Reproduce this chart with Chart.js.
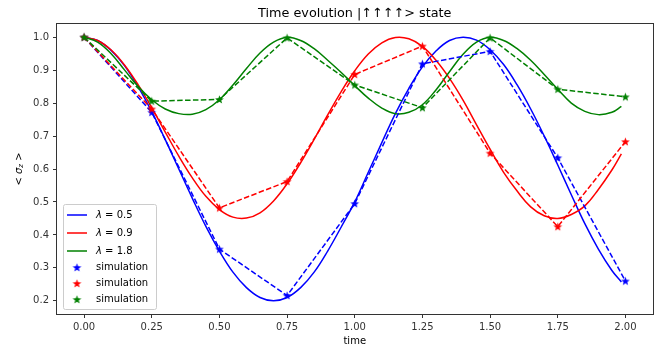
<!DOCTYPE html>
<html>
<head>
<meta charset="utf-8">
<script src="https://cdn.jsdelivr.net/npm/chart.js@4.4.0/dist/chart.umd.min.js"></script>
<style>
    html, body { margin: 0; padding: 0; background: #fff; }
    #wrap { width: 659px; height: 347px; }
</style>
</head>
<body>
<div id="wrap"><canvas id="chart" width="659" height="347"></canvas></div>
<script>
// Curvas teóricas (muestreadas cada 0.05)
const curveT = [0, 0.05, 0.1, 0.15, 0.2, 0.25, 0.3, 0.35, 0.4, 0.45,
    0.5, 0.55, 0.6, 0.65, 0.7, 0.75, 0.8, 0.85, 0.9, 0.95,
    1.0, 1.05, 1.1, 1.15, 1.2, 1.25, 1.3, 1.35, 1.4, 1.45,
    1.5, 1.55, 1.6, 1.65, 1.7, 1.75, 1.8, 1.85, 1.9, 1.95, 1.985];
const curve05 = [1.0, 0.990, 0.960, 0.913, 0.849, 0.774, 0.689, 0.600, 0.511, 0.426,
    0.351, 0.287, 0.240, 0.210, 0.200, 0.210, 0.240, 0.287, 0.351, 0.424,
    0.500, 0.590, 0.680, 0.768, 0.845, 0.910, 0.958, 0.990, 1.000, 0.991,
    0.962, 0.917, 0.855, 0.782, 0.700, 0.612, 0.522, 0.434, 0.357, 0.292, 0.257];
const curve09 = [1.0, 0.990, 0.961, 0.915, 0.855, 0.786, 0.712, 0.639, 0.573, 0.517,
    0.477, 0.454, 0.451, 0.467, 0.503, 0.555, 0.619, 0.690, 0.764, 0.835,
    0.898, 0.949, 0.983, 0.999, 0.995, 0.972, 0.930, 0.875, 0.809, 0.734,
    0.660, 0.590, 0.533, 0.485, 0.458, 0.450, 0.462, 0.488, 0.538, 0.597, 0.646];
const curve18 = [1.0, 0.985, 0.950, 0.900, 0.850, 0.810, 0.782, 0.768, 0.766, 0.780,
    0.810, 0.855, 0.905, 0.952, 0.985, 1.000, 0.990, 0.965, 0.930, 0.893,
    0.853, 0.815, 0.785, 0.768, 0.772, 0.795, 0.840, 0.895, 0.948, 0.985,
    1.000, 0.990, 0.965, 0.930, 0.887, 0.842, 0.800, 0.775, 0.765, 0.772, 0.790];

// Puntos de simulación
const simT = [0, 0.25, 0.5, 0.75, 1.0, 1.25, 1.5, 1.75, 2.0];
const sim05 = [1.0, 0.772, 0.357, 0.216, 0.495, 0.919, 0.957, 0.634, 0.260];
const sim09 = [1.0, 0.782, 0.482, 0.562, 0.887, 0.973, 0.648, 0.425, 0.683];
const sim18 = [1.0, 0.806, 0.811, 0.998, 0.855, 0.786, 0.998, 0.842, 0.819];

const lambdaLabels = ['λ = 0.5', 'λ = 0.9', 'λ = 1.8'];
const simLabel = 'simulation';
const chartTitle = 'Time evolution |↑↑↑↑> state';

const xTicks = [0, 0.25, 0.5, 0.75, 1.0, 1.25, 1.5, 1.75, 2.0];
const yTicks = [0.2, 0.3, 0.4, 0.5, 0.6, 0.7, 0.8, 0.9, 1.0];

const FONT = "'DejaVu Sans', sans-serif";
const colors = ['#0000ff', '#ff0000', '#008000'];

// Estrella rellena tipo matplotlib '*'
function makeStar(color) {
    const c = document.createElement('canvas');
    c.width = 11; c.height = 11;
    const g = c.getContext('2d');
    g.fillStyle = color;
    g.beginPath();
    for (let i = 0; i < 10; i++) {
        const r = i % 2 === 0 ? 4.6 : 1.9;
        const a = -Math.PI / 2 + i * Math.PI / 5;
        g.lineTo(5.5 + r * Math.cos(a), 5.9 + r * Math.sin(a));
    }
    g.closePath();
    g.fill();
    return c;
}
const stars = colors.map(makeStar);

function pts(xs, ys) {
    return xs.map((x, i) => ({ x: x, y: ys[i] }));
}

const curves = [curve05, curve09, curve18];
const sims = [sim05, sim09, sim18];

const datasets = [];
curves.forEach((c, i) => {
    datasets.push({
        label: lambdaLabels[i],
        data: pts(curveT, c),
        borderColor: colors[i],
        borderWidth: 1.5,
        pointRadius: 0,
        tension: 0.4,
        legendKind: 'line'
    });
});
sims.forEach((s, i) => {
    datasets.push({
        label: simLabel,
        data: pts(simT, s),
        borderColor: colors[i],
        backgroundColor: colors[i],
        borderWidth: 1.5,
        borderDash: [5.5, 2.4],
        pointStyle: stars[i],
        pointRadius: 5,
        tension: 0,
        legendKind: 'star'
    });
});
datasets.forEach((d, i) => { d.order = 20 - i; });

// Marco completo del área de datos
const framePlugin = {
    id: 'frame',
    afterDatasetsDraw(chart) {
        const a = chart.chartArea, ctx = chart.ctx;
        ctx.save();
        ctx.strokeStyle = '#333';
        ctx.lineWidth = 1;
        ctx.strokeRect(Math.round(a.left) - 0.5, Math.round(a.top) - 0.5,
            Math.round(a.right - a.left) + 1, Math.round(a.bottom - a.top) + 1);
        ctx.restore();
    }
};

// Título centrado sobre el área de datos (como matplotlib)
const titlePlugin = {
    id: 'axTitle',
    afterDraw(chart) {
        const a = chart.chartArea, ctx = chart.ctx;
        ctx.save();
        ctx.fillStyle = '#000';
        ctx.font = '12.8px ' + FONT;
        ctx.textAlign = 'center';
        ctx.textBaseline = 'middle';
        ctx.fillText(chartTitle, (a.left + a.right) / 2, 14);
        ctx.restore();
    }
};

// Título del eje y: < σz >
const yTitlePlugin = {
    id: 'ytitle',
    afterDraw(chart) {
        const a = chart.chartArea, ctx = chart.ctx;
        const cy = (a.top + a.bottom) / 2;
        ctx.save();
        ctx.translate(19, cy);
        ctx.rotate(-Math.PI / 2);
        ctx.fillStyle = '#000';
        ctx.textBaseline = 'middle';
        const parts = [
            { t: '<', f: '10px ' + FONT, dy: 0 },
            { t: ' ', f: '10px ' + FONT, dy: 0 },
            { t: 'σ', f: 'italic 10px ' + FONT, dy: 0 },
            { t: 'z', f: 'italic 7px ' + FONT, dy: 2.5 },
            { t: ' ', f: '10px ' + FONT, dy: 0 },
            { t: '>', f: '10px ' + FONT, dy: 0 }
        ];
        let w = 0;
        parts.forEach(p => { ctx.font = p.f; p.w = ctx.measureText(p.t).width; w += p.w; });
        let x = -w / 2;
        parts.forEach(p => { ctx.font = p.f; ctx.fillText(p.t, x, p.dy); x += p.w; });
        ctx.restore();
    }
};

// Leyenda dentro del gráfico (abajo a la izquierda)
const legendPlugin = {
    id: 'innerLegend',
    afterDraw(chart) {
        const a = chart.chartArea, ctx = chart.ctx;
        const items = chart.data.datasets.filter(d => d.label);
        const bw = 93, bh = 105;
        const bx = a.left + 6, by = a.bottom - 5 - bh;
        ctx.save();
        ctx.fillStyle = 'rgba(255,255,255,0.8)';
        ctx.strokeStyle = '#cccccc';
        ctx.lineWidth = 1;
        ctx.beginPath();
        ctx.roundRect(bx + 0.5, by + 0.5, bw, bh, 2);
        ctx.fill();
        ctx.stroke();
        let y = by + 11;
        items.forEach((d, i) => {
            const hx = bx + 4, tx = bx + 33;
            if (d.legendKind === 'line') {
                ctx.strokeStyle = d.borderColor;
                ctx.lineWidth = 1.5;
                ctx.beginPath();
                ctx.moveTo(hx, y);
                ctx.lineTo(hx + 20, y);
                ctx.stroke();
            } else {
                ctx.drawImage(d.pointStyle, hx + 10 - 5.5, y - 5.5);
            }
            ctx.fillStyle = '#000';
            ctx.textBaseline = 'middle';
            if (d.label.startsWith('λ')) {
                ctx.font = 'italic 10px ' + FONT;
                ctx.fillText('λ', tx, y);
                const lw = ctx.measureText('λ').width;
                ctx.font = '10px ' + FONT;
                ctx.fillText(d.label.slice(1), tx + lw, y);
            } else {
                ctx.font = '10px ' + FONT;
                ctx.fillText(d.label, tx, y);
            }
            y += d.legendKind === 'line' ? (i === 2 ? 16.5 : 18) : 16;
        });
        ctx.restore();
    }
};

const tickFont = { family: FONT, size: 10 };

new Chart(document.getElementById('chart'), {
    type: 'line',
    data: { datasets: datasets },
    options: {
        responsive: false,
        animation: false,
        devicePixelRatio: 1,
        layout: { padding: { left: 0, right: 6, top: 24, bottom: 0 } },
        plugins: {
            legend: { display: false },
            tooltip: { enabled: false },
            title: { display: false }
        },
        scales: {
            x: {
                type: 'linear',
                min: -0.1,
                max: 2.1,
                afterBuildTicks: s => { s.ticks = xTicks.map(v => ({ value: v })); },
                afterFit: s => { s.height = 33; },
                ticks: {
                    callback: v => v.toFixed(2),
                    font: tickFont,
                    color: '#333',
                    padding: 3,
                    maxRotation: 0,
                    autoSkip: false
                },
                grid: { drawOnChartArea: false, tickLength: 4, color: '#333' },
                border: { display: false },
                title: {
                    display: true,
                    text: 'time',
                    color: '#000',
                    font: { family: FONT, size: 10 },
                    padding: { top: 2, bottom: 0 }
                }
            },
            y: {
                min: 0.16,
                max: 1.04,
                afterBuildTicks: s => { s.ticks = yTicks.map(v => ({ value: v })); },
                afterFit: s => { s.width = 57; },
                ticks: {
                    callback: v => v.toFixed(1),
                    font: tickFont,
                    color: '#333',
                    padding: 4,
                    autoSkip: false
                },
                grid: { drawOnChartArea: false, tickLength: 4, color: '#333' },
                border: { display: false }
            }
        }
    },
    plugins: [framePlugin, titlePlugin, yTitlePlugin, legendPlugin]
});
</script>
</body>
</html>
